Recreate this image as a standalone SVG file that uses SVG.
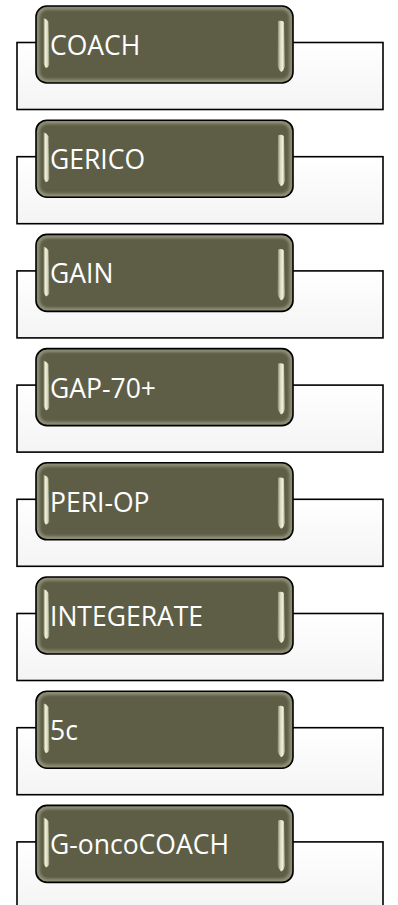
<svg xmlns="http://www.w3.org/2000/svg" xmlns:xlink="http://www.w3.org/1999/xlink" width="398" height="905" viewBox="0 0 398 905">
  <style>
    .panel { fill: url(#panelFill); stroke: #000; stroke-width: 1.6; }
    .label { font-family: "Open Sans", "Liberation Sans", sans-serif; font-size: 26.5px; fill: #ffffff; }
  </style>
  <defs>
    <linearGradient id="panelFill" x1="0" y1="0" x2="0" y2="1">
      <stop offset="0" stop-color="#ffffff"/>
      <stop offset="1" stop-color="#f4f4f4"/>
    </linearGradient>
    <linearGradient id="barL" x1="0" y1="0" x2="1" y2="0">
      <stop offset="0" stop-color="#8d8d74"/>
      <stop offset="0.35" stop-color="#f2f2dc"/>
      <stop offset="0.7" stop-color="#d4d4b8"/>
      <stop offset="1" stop-color="#7a7a62"/>
    </linearGradient>
    <linearGradient id="barR" x1="0" y1="0" x2="1" y2="0">
      <stop offset="0" stop-color="#7a7a62"/>
      <stop offset="0.35" stop-color="#d4d4b8"/>
      <stop offset="0.7" stop-color="#f2f2dc"/>
      <stop offset="1" stop-color="#8d8d74"/>
    </linearGradient>
    <clipPath id="boxClip">
      <rect x="36" y="0" width="257" height="77" rx="11"/>
    </clipPath>
    <filter id="soft" x="-10%" y="-10%" width="120%" height="120%">
      <feGaussianBlur stdDeviation="1.6"/>
    </filter>
    <filter id="barSoft" x="-50%" y="-10%" width="200%" height="120%">
      <feGaussianBlur stdDeviation="0.5"/>
    </filter>
    <!-- bevelled title tile, drawn in local coordinates (top at y=0) -->
    <g id="tile">
      <rect x="36" y="0" width="257" height="77" rx="11" fill="#5e5e47"/>
      <g clip-path="url(#boxClip)">
        <rect x="37.5" y="1.5" width="254" height="74" rx="10" fill="none" stroke="#a9a991" stroke-width="4" opacity="0.75" filter="url(#soft)"/>
      </g>
      <path d="M43.5,12 Q47,13 48.5,16 L49.5,58 Q49,61 46,62 Q44,60 43.5,57 Z" fill="url(#barL)" filter="url(#barSoft)"/>
      <path d="M278,15 Q282,14 284,16 L285,60 Q284,65 281,66 Q278,63 277.5,59 Z" fill="url(#barR)" filter="url(#barSoft)"/>
      <rect x="36" y="0" width="257" height="77" rx="11" fill="none" stroke="#000" stroke-width="1.6"/>
    </g>
  </defs>

  <g id="node-coach" transform="translate(0,6)">
    <rect class="panel" x="17" y="36.5" width="366" height="67"/>
    <use xlink:href="#tile"/>
    <text class="label" x="50" y="49">COACH</text>
  </g>

  <g id="node-gerico" transform="translate(0,120.2)">
    <rect class="panel" x="17" y="36.5" width="366" height="67"/>
    <use xlink:href="#tile"/>
    <text class="label" x="50" y="49">GERICO</text>
  </g>

  <g id="node-gain" transform="translate(0,234.4)">
    <rect class="panel" x="17" y="36.5" width="366" height="67"/>
    <use xlink:href="#tile"/>
    <text class="label" x="50" y="49">GAIN</text>
  </g>

  <g id="node-gap70" transform="translate(0,348.6)">
    <rect class="panel" x="17" y="36.5" width="366" height="67"/>
    <use xlink:href="#tile"/>
    <text class="label" x="50" y="49">GAP-70+</text>
  </g>

  <g id="node-periop" transform="translate(0,462.8)">
    <rect class="panel" x="17" y="36.5" width="366" height="67"/>
    <use xlink:href="#tile"/>
    <text class="label" x="50" y="49">PERI-OP</text>
  </g>

  <g id="node-integerate" transform="translate(0,577)">
    <rect class="panel" x="17" y="36.5" width="366" height="67"/>
    <use xlink:href="#tile"/>
    <text class="label" x="50" y="49">INTEGERATE</text>
  </g>

  <g id="node-5c" transform="translate(0,691.2)">
    <rect class="panel" x="17" y="36.5" width="366" height="67"/>
    <use xlink:href="#tile"/>
    <text class="label" x="50" y="49">5c</text>
  </g>

  <g id="node-goncocoach" transform="translate(0,805.4)">
    <rect class="panel" x="17" y="36.5" width="366" height="67"/>
    <use xlink:href="#tile"/>
    <text class="label" x="50" y="49">G-oncoCOACH</text>
  </g>

  <g id="connectors"/>
</svg>
